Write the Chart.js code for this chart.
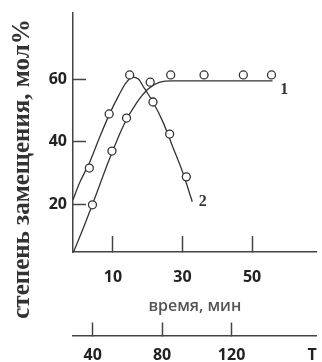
<!DOCTYPE html>
<html>
<head>
<meta charset="utf-8">
<script src="https://cdn.jsdelivr.net/npm/chart.js@4.4.0/dist/chart.umd.min.js"></script>
<style>
body{margin:0;background:#fff}
</style>
</head>
<body>
<canvas id="chart" width="322" height="362"></canvas>
<script>
// tick labels
const xTicks=[10,30,50]
const yTicks=[20,40,60]
const tTicks=[40,80,120]

// measured points, curve 1
const time1=[4.1,9.7,13.9,20.7,26.6,36.2,47.5,55.6]
const degree1=[20.0,37.1,47.6,59.0,61.3,61.3,61.3,61.3]
// measured points, curve 2
const time2=[3.2,8.9,14.8,21.5,26.3,31.1]
const degree2=[31.7,48.9,61.3,52.7,42.5,28.9]

// drawn curves
const curveTime1=[-1.3,1.5,4.6,8.9,13.1,16.8,20.1,23.5,27.2,55.9]
const curveDegree1=[5.1,12.7,21.6,34.3,45.4,52.4,56.8,59.0,59.4,59.4]
const curveTime2=[-1.5,0.4,3.2,6.1,8.9,11.7,13.9,15.6,17.3,19.0,21.5,24.4,27.2,30.0,32.8]
const curveDegree2=[21.6,27.0,33.3,41.3,48.6,54.9,59.0,60.6,60.0,57.1,52.7,46.3,38.4,30.5,21.0]

// curve numbers
const curveNames=['1','2']
const nameTime=[59.3,35.8]
const nameDegree=[56.6,21.0]

const pts=(xs,ys)=>xs.map((x,i)=>({x:x,y:ys[i]}))
const ink='#333'
const numFont={family:"'Open Sans', sans-serif",size:16,weight:'bold'}

const curveNamesPlugin={
    id:'curveNames',
    afterDatasetsDraw(chart){
        const ctx=chart.ctx
        const sx=chart.scales.x, sy=chart.scales.y
        ctx.save()
        ctx.font="bold 16px 'Liberation Serif', serif"
        ctx.fillStyle=ink
        ctx.textAlign='center'
        ctx.textBaseline='middle'
        curveNames.forEach((n,i)=>{
            ctx.fillText(n,sx.getPixelForValue(nameTime[i]),sy.getPixelForValue(nameDegree[i]))
        })
        ctx.restore()
    }
}

const pointSet=(xs,ys)=>({
    data:pts(xs,ys),
    showLine:false,
    pointRadius:4,
    pointBorderWidth:1.3,
    pointBorderColor:ink,
    pointBackgroundColor:'#fff'
})
const curveSet=(xs,ys)=>({
    data:pts(xs,ys),
    pointRadius:0,
    borderColor:ink,
    borderWidth:1.3,
    cubicInterpolationMode:'monotone'
})

new Chart(document.getElementById('chart'),{
    type:'line',
    data:{
        datasets:[
            pointSet(time1,degree1),
            pointSet(time2,degree2),
            curveSet(curveTime1,curveDegree1),
            curveSet(curveTime2,curveDegree2)
        ]
    },
    options:{
        responsive:false,
        animation:false,
        layout:{padding:{top:13,bottom:37,left:0,right:0}},
        plugins:{
            legend:{display:false},
            tooltip:{enabled:false},
            title:{
                display:true,
                position:'left',
                text:'степень замещения, мол%',
                color:ink,
                font:{family:"'Liberation Serif', serif",size:25,weight:'bold',lineHeight:1},
                padding:{top:10,bottom:0}
            }
        },
        scales:{
            x:{
                type:'linear',
                position:'bottom',
                min:-1.5,max:68.6,
                afterBuildTicks:s=>{s.ticks=xTicks.map(v=>({value:v}))},
                afterFit:s=>{s.height=73;s.paddingLeft=0;s.paddingRight=0},
                border:{color:'#444',width:1.5},
                grid:{drawOnChartArea:false,tickLength:-16,tickColor:'#444',tickWidth:1.5},
                ticks:{padding:32,font:numFont,color:'#222',maxRotation:0,autoSkip:false},
                title:{display:true,text:'время, мин',color:'#555',
                    font:{family:"'Open Sans', sans-serif",size:16,weight:'600'},
                    padding:{top:0,bottom:9}}
            },
            // second temperature axis, hung below the time axis
            t:{
                type:'linear',
                axis:'x',
                position:{y:-21.7},
                min:28.7,max:169,
                afterBuildTicks:s=>{s.ticks=tTicks.map(v=>({value:v}))},
                border:{color:'#444',width:1.5},
                grid:{drawOnChartArea:false,tickLength:-14,tickColor:'#444',tickWidth:1.5},
                ticks:{padding:24,font:numFont,color:'#222',maxRotation:0,autoSkip:false},
                title:{display:true,text:'T',align:'end',color:'#222',
                    font:numFont,padding:{top:0,bottom:127}}
            },
            y:{
                min:5,max:81,
                afterBuildTicks:s=>{s.ticks=yTicks.map(v=>({value:v}))},
                afterFit:s=>{s.width=38;s.paddingTop=0;s.paddingBottom=0},
                border:{color:'#444',width:1.5},
                grid:{drawOnChartArea:false,tickLength:-13,tickColor:'#444',tickWidth:1.5},
                ticks:{padding:19,font:numFont,color:'#222'}
            }
        }
    },
    plugins:[curveNamesPlugin]
})
</script>
</body>
</html>
